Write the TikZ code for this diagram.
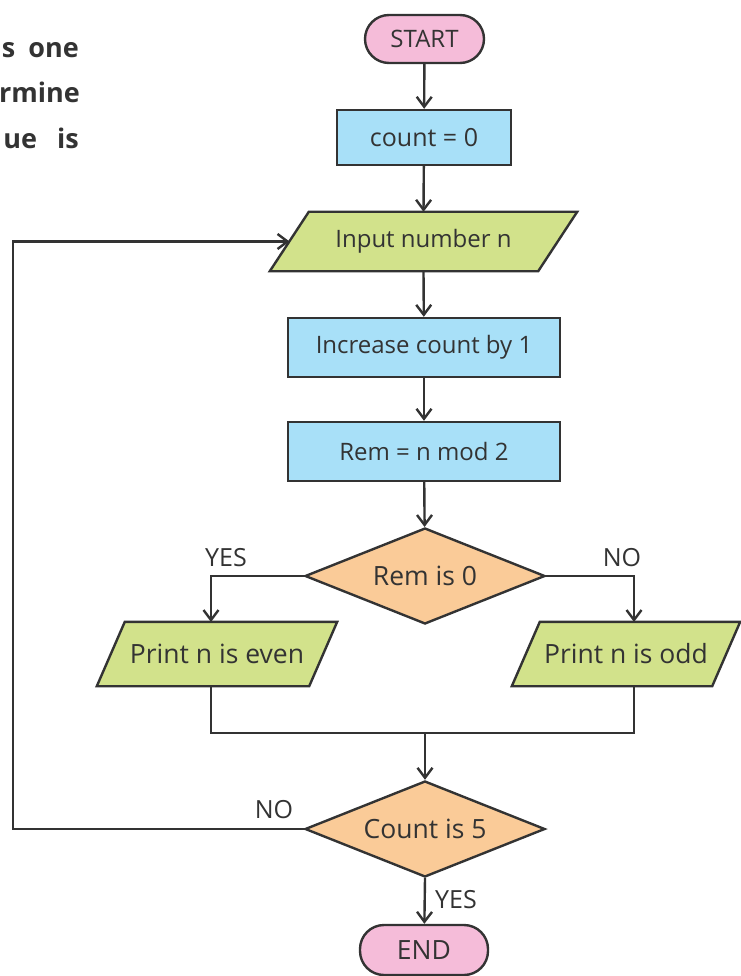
\documentclass[tikz,border=0pt]{standalone}
\usepackage{fontspec}
\setmainfont{Open Sans}
\usetikzlibrary{arrows.meta,shapes.geometric,calc}

\definecolor{ink}{HTML}{333333}
\definecolor{termfill}{HTML}{F5BCD9}
\definecolor{procfill}{HTML}{A8E0F8}
\definecolor{iofill}{HTML}{D2E28B}
\definecolor{decfill}{HTML}{FACB98}

\pgfdeclarelayer{background}
\pgfsetlayers{background,main}

\begin{document}
\begin{tikzpicture}[x=1pt,y=-1pt,
  every node/.style={font=\fontsize{24}{28}\selectfont, text=ink},
  big/.style={font=\fontsize{26.5}{30}\selectfont},
  base/.style={draw=ink, line width=2.4pt, inner sep=0pt},
  terminal/.style={base, fill=termfill, rounded corners=24pt, minimum height=48pt},
  process/.style={base, fill=procfill, minimum height=59pt},
  decision/.style={base, fill=decfill, diamond, aspect=2.5, minimum width=240pt, minimum height=96pt},
  iotext/.style={inner sep=0pt},
  flow/.style={draw=ink, line width=2.4pt},
  arr/.style={flow, -{Straight Barb[length=10pt,width=15pt]}},
  lbl/.style={inner sep=0pt, font=\fontsize{25}{29}\selectfont},
  para/.style={font=\bfseries\fontsize{27}{32}\selectfont, anchor=base east, inner sep=0pt},
]
\useasboundingbox (0,0) rectangle (740,976);

% paragraph fragments on the left
\node[para] (p1) at (79,58) {s\hspace{13pt}one};
\node[para] (p2) at (80,103) {rmine};
\node[para] (p3) at (79,149) {ue\hspace{20pt}is};

% main column
\node[terminal, minimum width=119pt] (start) at (424.5,39) {START};
\node[process, minimum width=174pt, minimum height=55pt, font=\fontsize{25}{29}\selectfont] (init) at (424,137.5) {count = 0};
\node[iotext, minimum width=268pt, minimum height=59pt] (inp) at (423.5,241.5) {Input number n};
\node[process, minimum width=272pt] (inc) at (424,347.5) {Increase count by 1};
\node[process, minimum width=272pt] (rem) at (424,451.5) {Rem = n mod 2};
\node[decision, big] (iszero) at (425,576) {Rem is 0};
\node[iotext, big, minimum width=212pt, minimum height=64pt] (even) at (217,654) {Print n is even};
\node[iotext, big, minimum width=200pt, minimum height=64pt] (odd) at (626,654) {Print n is odd};
\node[decision, big] (isfive) at (425,829) {Count is 5};
\node[terminal, big, minimum width=128pt, minimum height=50pt] (stop) at (424,950) {END};

% parallelogram outlines behind the input/output texts
\begin{pgfonlayer}{background}
  \draw[flow, fill=iofill, line join=miter]
    ($(inp.north west)+(19.5,0)$) -- ($(inp.north east)+(19.5,0)$)
    -- ($(inp.south east)+(-19.5,0)$) -- ($(inp.south west)+(-19.5,0)$) -- cycle;
  \draw[flow, fill=iofill, line join=miter]
    ($(even.north west)+(14,0)$) -- ($(even.north east)+(14,0)$)
    -- ($(even.south east)+(-14,0)$) -- ($(even.south west)+(-14,0)$) -- cycle;
  \draw[flow, fill=iofill, line join=miter]
    ($(odd.north west)+(14,0)$) -- ($(odd.north east)+(14,0)$)
    -- ($(odd.south east)+(-14,0)$) -- ($(odd.south west)+(-14,0)$) -- cycle;
\end{pgfonlayer}

% connector end points
\coordinate (inpleft) at (289.5,241.5);
\coordinate (loopcorner) at (13,241.5);
\coordinate (evenin) at (211,622);
\coordinate (oddin) at (634,622);
\coordinate (evenout) at (211,686);
\coordinate (oddout) at (634,686);
\coordinate (joinL) at (211,733);
\coordinate (joinR) at (634,733);
\coordinate (join) at (425,733);

% connectors
\draw[arr] (start) -- (init);
\draw[arr] (init) -- (inp.north);
\draw[arr] (inp.south) -- (inc);
\draw[arr] (inc) -- (rem);
\draw[arr] (rem) -- (iszero);
\draw[arr] (iszero.west) -| (evenin);
\draw[arr] (iszero.east) -| (oddin);
\draw[flow] (evenout) -- (joinL) -- (joinR) -- (oddout);
\draw[arr] (join) -- (isfive.north);
\draw[arr] (isfive.west) -| (loopcorner) -- (inpleft);
\draw[arr] (isfive.south) -- (stop);

% branch labels
\node[lbl] (yes1) at (226,558) {YES};
\node[lbl] (no1) at (622,558) {NO};
\node[lbl] (no2) at (274,810) {NO};
\node[lbl] (yes2) at (456,900) {YES};
\end{tikzpicture}
\end{document}
